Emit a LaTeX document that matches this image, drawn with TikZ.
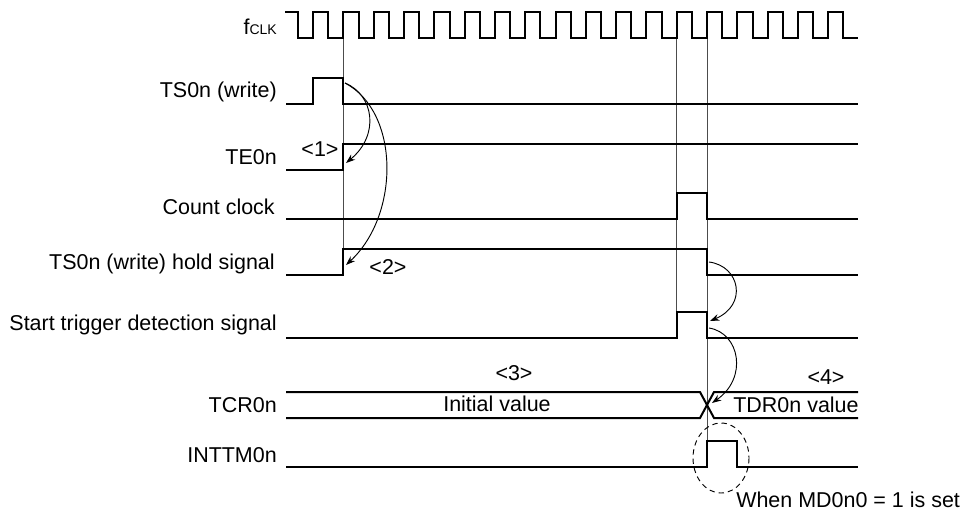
\documentclass[tikz,border=0pt]{standalone}
\usepackage{fontspec}
\setmainfont{Liberation Sans}
\usetikzlibrary{arrows.meta}
\begin{document}
\begin{tikzpicture}[x=0.75pt,y=-0.75pt,
  sig/.style={line width=1.5pt,line join=miter},
  guide/.style={line width=0.6pt,black!70},
  conn/.style={line width=0.7pt,-{Stealth[length=7pt,width=5pt]}},
  lbl/.style={anchor=east,font=\fontsize{16.1}{19}\selectfont,inner sep=0pt},
  txt/.style={font=\fontsize{16.1}{19}\selectfont,inner sep=0pt}]
\useasboundingbox (0,0) rectangle (967,514);
% guide lines
\draw[guide] (343.4,38) -- (343.4,275);
\draw[guide] (676.8,38) -- (676.8,338);
\draw[guide] (707.1,38) -- (707.1,467);
% fCLK
\node[lbl] (lclk) at (277,27) {f{\fontsize{10.5}{12}\selectfont CLK}};
\draw[sig] (285,12) foreach \k in {0,...,17} { -- ({298+30.3*\k},12) -- ({298+30.3*\k},38) -- ({313.15+30.3*\k},38) -- ({313.15+30.3*\k},12) } -- (843.4,12) -- (843.4,38) -- (858,38);
% TS0n (write)
\node[lbl] (lts) at (277,92) {TS0n (write)};
\draw[sig] (286,104) -- (313,104) -- (313,78) -- (343.4,78) -- (343.4,104) -- (858,104);
% TE0n
\node[lbl] (lte) at (277,157) {TE0n};
\draw[sig] (286,170) -- (343.4,170) -- (343.4,144) -- (858,144);
\node[txt] (n1) at (320,149) {<1>};
% Count clock
\node[lbl] (lcc) at (275,207) {Count clock};
\draw[sig] (286,219) -- (676.8,219) -- (676.8,193) -- (707.1,193) -- (707.1,219) -- (858,219);
% hold signal
\node[lbl] (lhold) at (275,264) {TS0n (write) hold signal};
\draw[sig] (286,275) -- (343.4,275) -- (343.4,249) -- (707.1,249) -- (707.1,275) -- (858,275);
\node[txt] (n2) at (388,267) {<2>};
% start trigger
\node[lbl] (lstart) at (277,325) {Start trigger detection signal};
\draw[sig] (286,338) -- (676.8,338) -- (676.8,312) -- (707.1,312) -- (707.1,338) -- (858,338);
% TCR0n
\node[lbl] (ltcr) at (277,405) {TCR0n};
\draw[sig] (286,392) -- (700,392) -- (714,418) -- (858,418);
\draw[sig] (286,418) -- (700,418) -- (714,392) -- (858,392);
\node[txt] (n3) at (514,373) {<3>};
\node[txt] (iv) at (497,404) {Initial value};
\node[txt] (n4) at (826,377) {<4>};
\node[txt] (tdr) at (796,405) {TDR0n value};
% INTTM0n
\node[lbl] (lint) at (277,455) {INTTM0n};
\draw[sig] (286,467) -- (707.1,467) -- (707.1,441) -- (737,441) -- (737,467) -- (858,467);
\draw[dashed,line width=0.7pt,dash pattern=on 4pt off 3pt] (721,458) ellipse [x radius=28, y radius=35];
\node[txt,anchor=west] (md) at (736,500) {When MD0n0 = 1 is set};
% arrows
\coordinate (a0) at (345,83);
\coordinate (a1) at (346,163);
\coordinate (a2) at (346,265);
\coordinate (b0) at (709,262);
\coordinate (b1) at (710,321);
\coordinate (c0) at (709,328);
\coordinate (c1) at (712,403);
\draw[conn] (a0) .. controls (374,95) and (380,135) .. (a1);
\draw[conn] (a0) .. controls (400,112) and (400,215) .. (a2);
\draw[conn] (b0) .. controls (740,266) and (748,305) .. (b1);
\draw[conn] (c0) .. controls (740,333) and (748,378) .. (c1);
\end{tikzpicture}
\end{document}
